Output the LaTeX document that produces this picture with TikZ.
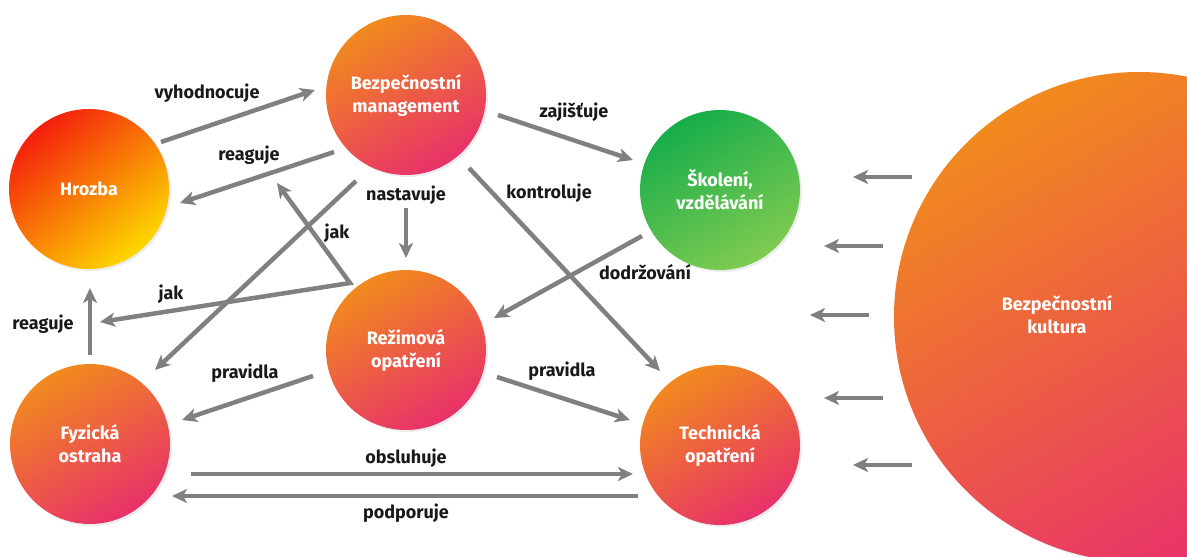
\documentclass[tikz,border=0pt]{standalone}
\usepackage{fontspec}
\setmainfont{Fira Sans}
\usetikzlibrary{arrows.meta,calc,shadows}

\definecolor{sedasipka}{HTML}{808080}
\definecolor{oranzova}{HTML}{F18A1D}
\definecolor{ruzova}{HTML}{E8316A}
\definecolor{cervena}{HTML}{F41F0C}
\definecolor{zluta}{HTML}{FDD800}
\definecolor{zelena}{HTML}{17AD4B}
\definecolor{svetlezelena}{HTML}{80CB50}

\tikzset{
  bilytext/.style={align=center, text=white, font=\bfseries\fontsize{18}{23}\selectfont},
  kruh/.style={circle, minimum size=160pt, inner sep=0pt, bilytext,
    drop shadow={shadow xshift=2pt, shadow yshift=-2pt, opacity=0.15}},
  oranzovykruh/.style={kruh, top color=oranzova, bottom color=ruzova, shading angle=30},
  hrozbakruh/.style={kruh, top color=cervena, bottom color=zluta, shading angle=40},
  zelenykruh/.style={kruh, top color=zelena, bottom color=svetlezelena, shading angle=30},
  popis/.style={font=\bfseries\fontsize{18}{22}\selectfont, text=black!90, inner sep=0pt},
  sipka/.style={draw=sedasipka, line width=4.5pt, ->}
}

\begin{document}
\begin{tikzpicture}[x=1pt, y=-1pt, >={Stealth[length=15pt, width=14pt, inset=4pt]}]
  \useasboundingbox (0,0) rectangle (1187,557);

  %%%%% KRUHY %%%%%
  \node[oranzovykruh, minimum size=490pt] (kultura) at (1139,317) {};
  \node[bilytext] (kulturatext) at (1057,315) {Bezpečnostní\\kultura};

  \node[hrozbakruh] (hrozba) at (89,189) {Hrozba};
  \node[oranzovykruh] (mgmt) at (406,95) {Bezpečnostní\\management};
  \node[zelenykruh] (skoleni) at (720,190) {Školení,\\vzdělávání};
  \node[oranzovykruh] (rezim) at (406,350) {Režimová\\opatření};
  \node[oranzovykruh] (fyz) at (90,444) {Fyzická\\ostraha};
  \node[oranzovykruh] (tech) at (720,445) {Technická\\opatření};

  %%%%% SIPKY %%%%%
  \draw[sipka] ($(hrozba)+(72,-47)$) -- ($(mgmt)+(-91,-5)$);
  \draw[sipka] ($(mgmt)+(-72,57)$) -- ($(hrozba)+(91,14)$);
  \draw[sipka] ($(mgmt)+(-50,86)$) -- ($(fyz)+(65,-74)$);
  \draw[sipka] ($(mgmt)+(0,113)$) -- ($(rezim)+(0,-92)$);
  \draw[sipka] ($(mgmt)+(92,20)$) -- ($(skoleni)+(-87,-30)$);
  \draw[sipka] ($(mgmt)+(63,73)$) -- ($(tech)+(-60,-74)$);
  \draw[sipka] ($(skoleni)+(-78,46)$) -- ($(rezim)+(88,-32)$);
  \draw[sipka] ($(fyz)+(0,-89)$) -- ($(hrozba)+(1,99)$);
  \draw[sipka] ($(rezim)+(-93,26)$) -- ($(fyz)+(92,-24)$);
  \draw[sipka] ($(rezim)+(91,27)$) -- ($(tech)+(-90,-25)$);
  \draw[sipka] ($(fyz)+(101,30)$) -- ($(tech)+(-87,29)$);
  \draw[sipka] ($(tech)+(-82,51)$) -- ($(fyz)+(82,52)$);

  % jak -- lomena sipka
  \coordinate (jakroh) at ($(rezim)+(-56,-67)$);
  \coordinate (jakhore) at (277,183);
  \coordinate (jakvlevo) at (100,322);
  \draw[sipka, <->, line join=miter] (jakhore) -- (jakroh) -- (jakvlevo);

  % vliv kultury
  \foreach \dx/\dy in {-227/-140, -256/-71, -270/-2, -256/81, -227/148}
    \draw[sipka] ($(kultura)+(\dx,\dy)$) -- ++(-59,0);

  %%%%% POPISY %%%%%
  \node[popis] (lvyhod) at (207,93) {vyhodnocuje};
  \node[popis] (lreag) at (249,155) {reaguje};
  \node[popis] (ljak) at (337,233) {jak};
  \node[popis] (ljak2) at (171,294) {jak};
  \node[popis] (lnast) at (406,195) {nastavuje};
  \node[popis] (lzaj) at (574,112) {zajišťuje};
  \node[popis] (lkontr) at (549,193) {kontroluje};
  \node[popis] (ldodr) at (645,272) {dodržování};
  \node[popis] (lreag2) at (43,324) {reaguje};
  \node[popis] (lprav) at (245,373) {pravidla};
  \node[popis] (lprav2) at (562,371) {pravidla};
  \node[popis] (lobsl) at (406,458) {obsluhuje};
  \node[popis] (lpodp) at (406,513) {podporuje};
\end{tikzpicture}
\end{document}
